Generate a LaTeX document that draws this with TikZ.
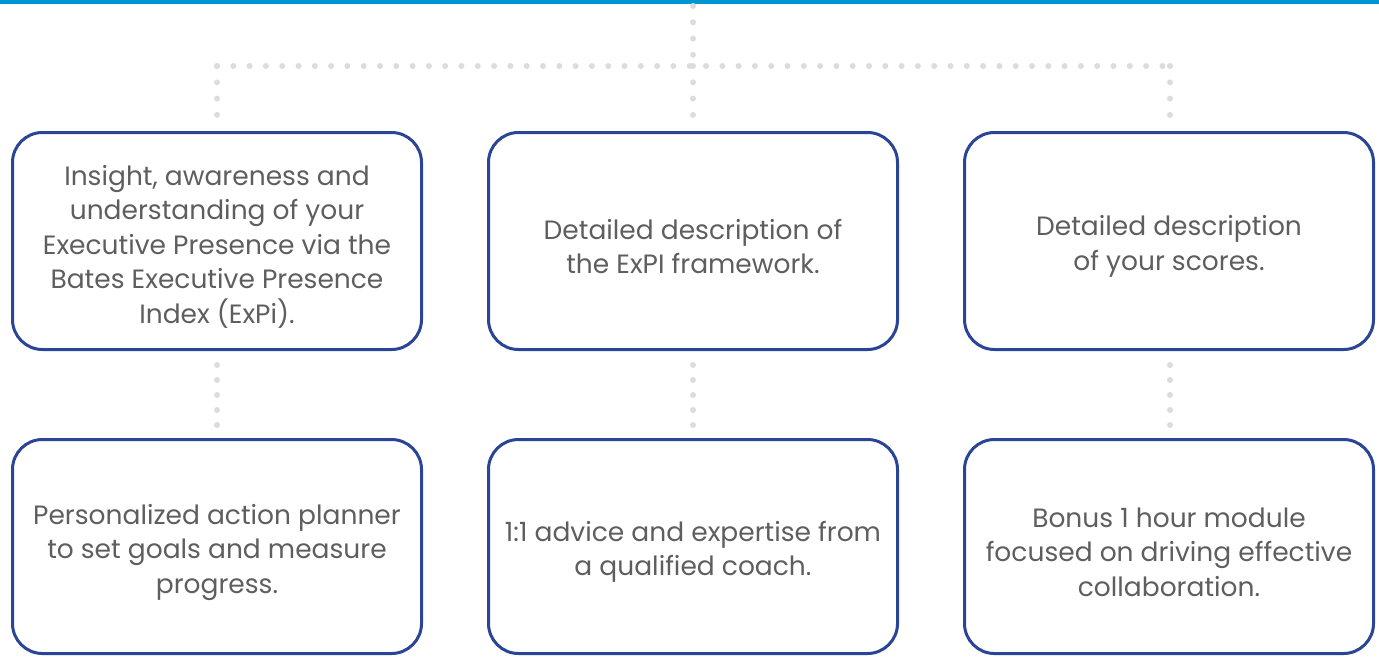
\documentclass[tikz,border=0pt]{standalone}
\usepackage{fontspec}
\setmainfont{Poppins}
\definecolor{topbar}{HTML}{0096D2}
\definecolor{boxline}{HTML}{2B4596}
\definecolor{dotc}{HTML}{DCDCDC}
\definecolor{txt}{HTML}{5E5E5E}
\begin{document}
\begin{tikzpicture}[x=1pt,y=-1pt,
  card/.style={draw=boxline, line width=3pt, rounded corners=30pt, minimum width=409pt, inner sep=0pt},
  toprow/.style={card, minimum height=217pt},
  botrow/.style={card, minimum height=214pt},
  cardtext/.style={align=center, text=txt, font=\fontsize{26.5}{34.5}\selectfont, inner sep=0pt, yshift=-5.5pt},
  dots/.style={draw=dotc, line width=6pt, line cap=round, dash pattern=on 0pt off 16.3pt},
  dotsv/.style={draw=dotc, line width=6pt, line cap=round, dash pattern=on 0pt off 15pt}]
\useasboundingbox (0,0) rectangle (1379,657);
\fill[topbar] (0,0) rectangle (1379,4);
\node[toprow] (A) at (217,241) {};
\node[toprow] (B) at (693,241) {};
\node[toprow] (C) at (1169,241) {};
\node[botrow] (D) at (217,546.5) {};
\node[botrow] (E) at (693,546.5) {};
\node[botrow] (F) at (1169,546.5) {};
\node[cardtext] (At) at (A.center) {Insight, awareness and\\understanding of your\\Executive Presence via the\\Bates Executive Presence\\Index (ExPi).};
\node[cardtext] (Bt) at (B.center) {Detailed description of\\the ExPI framework.};
\node[cardtext] (Ct) at (C.center) {Detailed description\\of your scores.};
\node[cardtext] (Dt) at (D.center) {Personalized action planner\\to set goals and measure\\progress.};
\node[cardtext] (Et) at (E.center) {1:1 advice and expertise from\\a qualified coach.};
\node[cardtext] (Ft) at (F.center) {Bonus 1 hour module\\focused on driving effective\\collaboration.};
\coordinate (top) at (693,6);
\coordinate (j) at (693,66);
\coordinate (jl) at (217,66);
\coordinate (jr) at (1170,66);
\draw[dots] (top) -- (j);
\draw[dots] (jl) -- (jr);
\draw[dots, shorten >=4pt] (jl) -- (jl |- A.north);
\draw[dots, shorten >=4pt] (j) -- (B.north);
\draw[dots, shorten >=4pt] (jr) -- (jr |- C.north);
\draw[dotsv, shorten <=14pt, shorten >=13pt] (A.south) -- (D.north);
\draw[dotsv, shorten <=14pt, shorten >=13pt] (B.south) -- (E.north);
\draw[dotsv, shorten <=14pt, shorten >=13pt] (jr |- C.south) -- (jr |- F.north);
\end{tikzpicture}
\end{document}
